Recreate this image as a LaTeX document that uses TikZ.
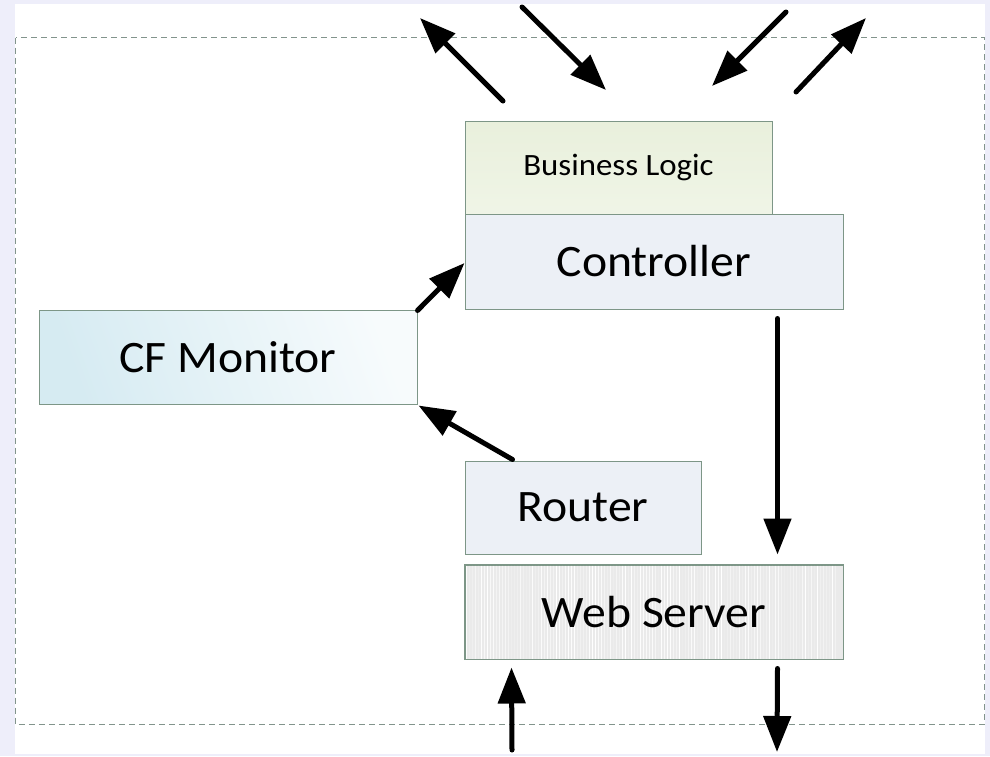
\documentclass[tikz,border=0pt]{standalone}
\usepackage{fontspec}
\usepackage{graphicx}
\setmainfont{Carlito}
\usetikzlibrary{arrows.meta,calc}
\definecolor{bgl}{RGB}{238,238,250}
\definecolor{edge}{RGB}{125,150,135}
\definecolor{frame}{RGB}{130,148,140}
\definecolor{blgreen}{RGB}{233,240,220}
\definecolor{ctrlfill}{RGB}{236,240,246}
\definecolor{monblue}{RGB}{214,235,242}
\definecolor{wsgray}{RGB}{234,234,234}
\newcommand{\wdtext}[1]{\scalebox{1.06}[1]{#1}}
\tikzset{
  box/.style={draw=edge, line width=1pt, inner sep=0pt, anchor=center, font=\fontsize{45}{54}\selectfont},
  bigarrow/.style={line width=5pt, line cap=round, -{Triangle[length=36pt,width=27pt]}},
}
\begin{document}
\begin{tikzpicture}[x=1pt,y=-1pt]
\useasboundingbox (0,0) rectangle (990,756);
\fill[bgl] (0,0) rectangle (990,756);
\fill[white] (15,4) rectangle (985,754);
\draw[frame, line width=1pt, dash pattern=on 6pt off 4pt] (15.5,37.5) rectangle (984.5,724);

% boxes
\node[box, minimum width=307pt, minimum height=93pt, top color=blgreen, bottom color=blgreen!70!white,
  font=\fontsize{31}{37}\selectfont] (bl) at (618.5,167.5) {\wdtext{Business Logic}};
\node[box, minimum width=378pt, minimum height=95pt, fill=ctrlfill] (ctrl) at (654,261.5) {\wdtext{Controller}};
\node[box, minimum width=378pt, minimum height=94pt, shading=axis, left color=monblue, right color=monblue!20!white, shading angle=110] (cfm) at (228,357) {\wdtext{CF Monitor}};
\node[box, minimum width=236pt, minimum height=93pt, fill=ctrlfill] (router) at (583,507.5) {\wdtext{Router}};
\node[box, minimum width=378pt, minimum height=94pt, fill=wsgray] (web) at (654,612) {};
\pgfmathsetseed{7}
\foreach \i in {0,...,123} {
  \pgfmathsetmacro{\sh}{rnd*50+50}
  \draw[white!\sh!gray!30, line width=1pt] (466.5+\i*3,565.5) -- (466.5+\i*3,658.5);
}
\draw[edge, line width=1pt] (web.north west) rectangle (web.south east);
\node[font=\fontsize{45}{54}\selectfont] (wslabel) at (web.center) {\wdtext{Web Server}};

% free ends
\coordinate (t1a) at (503,101); \coordinate (t1b) at (420,18);
\coordinate (t2a) at (522,7);   \coordinate (t2b) at (606,90);
\coordinate (t3a) at (786,12);  \coordinate (t3b) at (712,86);
\coordinate (t4a) at (796,92);  \coordinate (t4b) at (866,18);
\coordinate (b1) at (512,750);
\coordinate (b2) at (777,752);

\draw[bigarrow] (t1a) -- (t1b);
\draw[bigarrow] (t2a) -- (t2b);
\draw[bigarrow] (t3a) -- (t3b);
\draw[bigarrow] (t4a) -- (t4b);

\draw[bigarrow] ([shift={(0,1)}]cfm.north east) -- ([shift={(0,1.5)}]ctrl.west);
\draw[bigarrow] ([shift={(48,-1)}]router.north west) -- ([shift={(1,1)}]cfm.south east);
\draw[bigarrow] ([shift={(-66,9)}]ctrl.south east) -- ([shift={(-66,-10)}]web.north east);
\draw[bigarrow] (b1) -- ([shift={(47,8)}]web.south west);
\draw[bigarrow] ([shift={(-66,9)}]web.south east) -- (b2);
\end{tikzpicture}
\end{document}
